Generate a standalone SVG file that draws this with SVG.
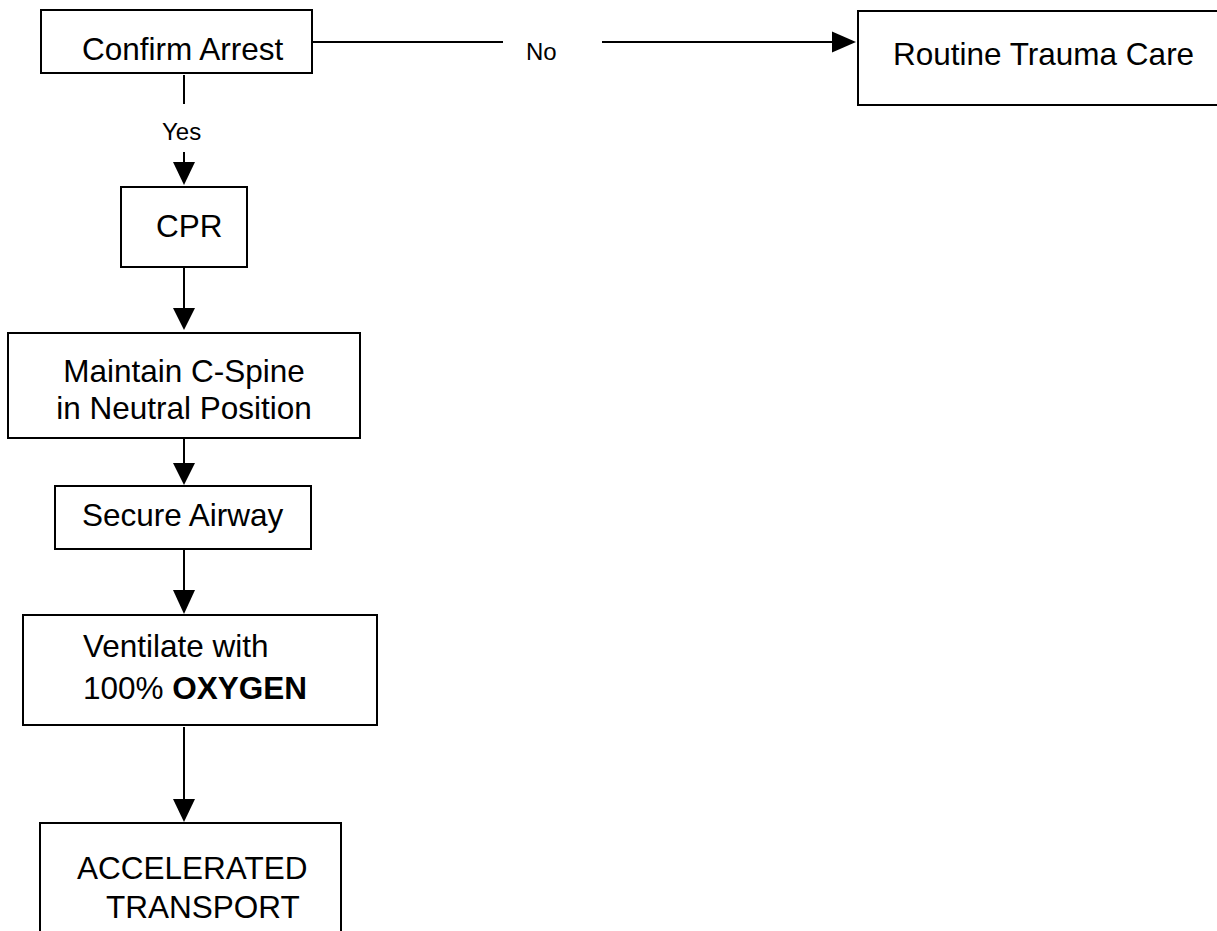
<svg xmlns="http://www.w3.org/2000/svg" width="1217" height="931" viewBox="0 0 1217 931">
  <style>
    .box { fill: #ffffff; stroke: #000000; stroke-width: 2; }
    .lbl { font-family: "Liberation Sans", Arial, sans-serif; font-size: 31.5px; fill: #000000; }
    .small { font-family: "Liberation Sans", Arial, sans-serif; font-size: 24px; fill: #000000; }
    .wire { fill: none; stroke: #000000; stroke-width: 2; }
    .head { fill: #000000; stroke: none; }
  </style>
  <rect width="1217" height="931" fill="#ffffff"/>

  <!-- connectors -->
  <g id="connectors">
    <!-- Confirm Arrest -> Routine Trauma Care (No) -->
    <line class="wire" x1="312" y1="42" x2="503" y2="42"/>
    <text class="small" x="526" y="60">No</text>
    <line class="wire" x1="602" y1="42" x2="834" y2="42"/>
    <polygon class="head" points="832,31.5 856,42 832,52.5"/>

    <!-- Confirm Arrest -> CPR (Yes) -->
    <line class="wire" x1="184" y1="75" x2="184" y2="104"/>
    <text class="small" x="162" y="140">Yes</text>
    <line class="wire" x1="184" y1="152" x2="184" y2="164"/>
    <polygon class="head" points="173,162 195,162 184,185"/>

    <!-- CPR -> Maintain C-Spine -->
    <line class="wire" x1="184" y1="268" x2="184" y2="310"/>
    <polygon class="head" points="173,308 195,308 184,330"/>

    <!-- Maintain C-Spine -> Secure Airway -->
    <line class="wire" x1="184" y1="439" x2="184" y2="465"/>
    <polygon class="head" points="173,463 195,463 184,485"/>

    <!-- Secure Airway -> Ventilate -->
    <line class="wire" x1="184" y1="550" x2="184" y2="592"/>
    <polygon class="head" points="173,590 195,590 184,614"/>

    <!-- Ventilate -> Accelerated Transport -->
    <line class="wire" x1="184" y1="727" x2="184" y2="801"/>
    <polygon class="head" points="173,799 195,799 184,822"/>
  </g>

  <g id="confirm-arrest">
    <rect class="box" x="41" y="10" width="271" height="63"/>
    <text class="lbl" x="82" y="60">Confirm Arrest</text>
  </g>

  <g id="routine-trauma-care">
    <rect class="box" x="858" y="11" width="370" height="94"/>
    <text class="lbl" x="893" y="65">Routine Trauma Care</text>
  </g>

  <g id="cpr">
    <rect class="box" x="121" y="187" width="126" height="80"/>
    <text class="lbl" x="156" y="237">CPR</text>
  </g>

  <g id="maintain-c-spine">
    <rect class="box" x="8" y="333" width="352" height="105"/>
    <text class="lbl" x="184" y="382" text-anchor="middle">Maintain C-Spine</text>
    <text class="lbl" x="184" y="419" text-anchor="middle">in Neutral Position</text>
  </g>

  <g id="secure-airway">
    <rect class="box" x="55" y="486" width="256" height="63"/>
    <text class="lbl" x="82" y="526">Secure Airway</text>
  </g>

  <g id="ventilate">
    <rect class="box" x="23" y="615" width="354" height="110"/>
    <text class="lbl" x="83" y="657">Ventilate with</text>
    <text class="lbl" x="83" y="699">100% <tspan font-weight="bold">OXYGEN</tspan></text>
  </g>

  <g id="accelerated-transport">
    <rect class="box" x="40" y="823" width="301" height="130"/>
    <text class="lbl" x="77" y="879">ACCELERATED</text>
    <text class="lbl" x="106" y="918">TRANSPORT</text>
  </g>
</svg>
